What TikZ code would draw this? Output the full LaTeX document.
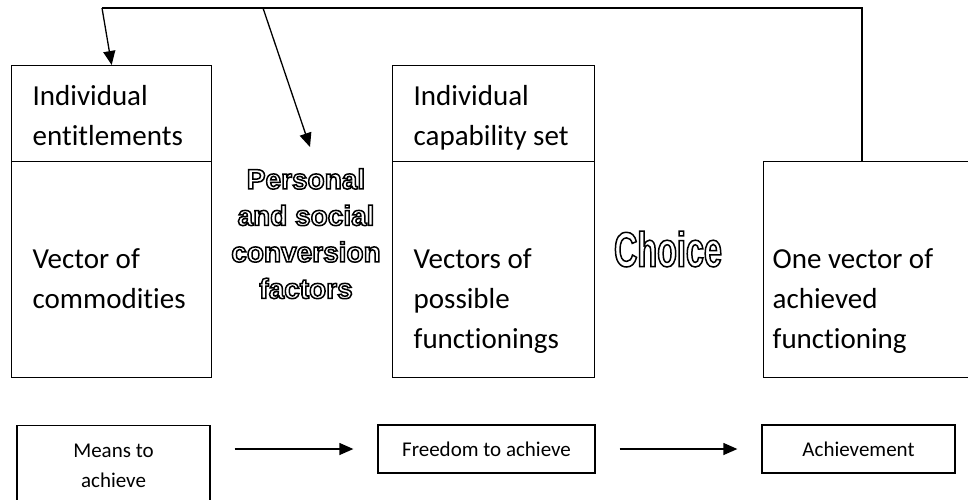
\documentclass[tikz,border=0pt]{standalone}
\usepackage{fontspec}
\setmainfont{Carlito}[Ligatures=NoCommon]
\newfontfamily\heavyfont{Liberation Sans}
\newfontfamily\narrowfont[FakeStretch=0.66]{Liberation Sans}
\usetikzlibrary{arrows.meta}

% texte creux (contour seul)
\newcommand\hollow[1]{\special{pdf:literal direct 1 Tr 1.5 w}#1\special{pdf:literal direct 0 Tr}}

\tikzset{every picture/.style={line width=1.3pt}}
\tikzset{
  box/.style={draw, inner sep=0pt, anchor=north west},
  txt/.style={anchor=base west, inner sep=0pt, text width=175pt, align=flush left,
    font=\fontsize{29}{40}\selectfont},
  small/.style={draw, align=center, font=\fontsize{21}{30}\selectfont},
  bigtext/.style={inner xsep=0pt, align=center, font=\heavyfont\bfseries\fontsize{28}{36.5}\selectfont},
  flow/.style={-{Triangle[length=14pt,width=12pt]}}
}

\begin{document}
\begin{tikzpicture}[x=1pt, y=-1pt]
  \useasboundingbox (0,0) rectangle (968,499);
  \clip (0,0) rectangle (968,499);

  % Boîtes du haut
  \node[box, minimum width=200pt, minimum height=96pt] (ent) at (11,65) {};
  \node[txt] (enttxt) at (32,105) {Individual\\entitlements};
  \node[box, minimum width=200pt, minimum height=216pt] (comm) at (11,161) {};
  \node[txt] (commtxt) at (32,268) {Vector of\\commodities};

  \node[box, minimum width=202pt, minimum height=96pt] (capset) at (392,65) {};
  \node[txt] (capsettxt) at (413,105) {Individual\\capability set};
  \node[box, minimum width=202pt, minimum height=216pt] (vecs) at (392,161) {};
  \node[txt] (vecstxt) at (413,268) {Vectors of\\possible\\functionings};

  \node[box, minimum width=220pt, minimum height=216pt] (achv) at (763,161) {};
  \node[txt] (achvtxt) at (772,268) {One vector of\\achieved\\functioning};

  % Textes creux
  \node[bigtext, inner ysep=21pt, anchor=north] (fac) at (306,147)
    {\hollow{Personal\\and social\\conversion\\factors}};
  \node[inner sep=0pt, font=\narrowfont\bfseries\fontsize{49}{49}\selectfont] (choice) at (668,249)
    {\hollow{Choice}};

  % Boucle de retour
  \coordinate (loopL) at (102,8);
  \coordinate (loopM) at (263,8);
  \coordinate (loopR) at (862,8);
  \draw (loopL) -- (loopR) -- (loopR |- achv.north);
  \draw[flow] (loopL) -- (ent.north);
  \draw[flow] (loopM) -- ([xshift=4pt]fac.north);

  % Ligne du bas
  \node[small, anchor=north, minimum width=193pt, inner ysep=18pt] (means) at (113.5,425) {Means to\\achieve};
  \node[small, minimum width=217pt, minimum height=48pt] (free) at (486.5,449) {Freedom to achieve};
  \node[small, minimum width=193pt, minimum height=48pt] (achmt) at (858.5,449) {Achievement};

  \foreach \a/\b in {means/free, free/achmt}
    \draw[flow, shorten <=24pt, shorten >=24pt] (\a.east |- \b) -- (\b.west);
\end{tikzpicture}
\end{document}
